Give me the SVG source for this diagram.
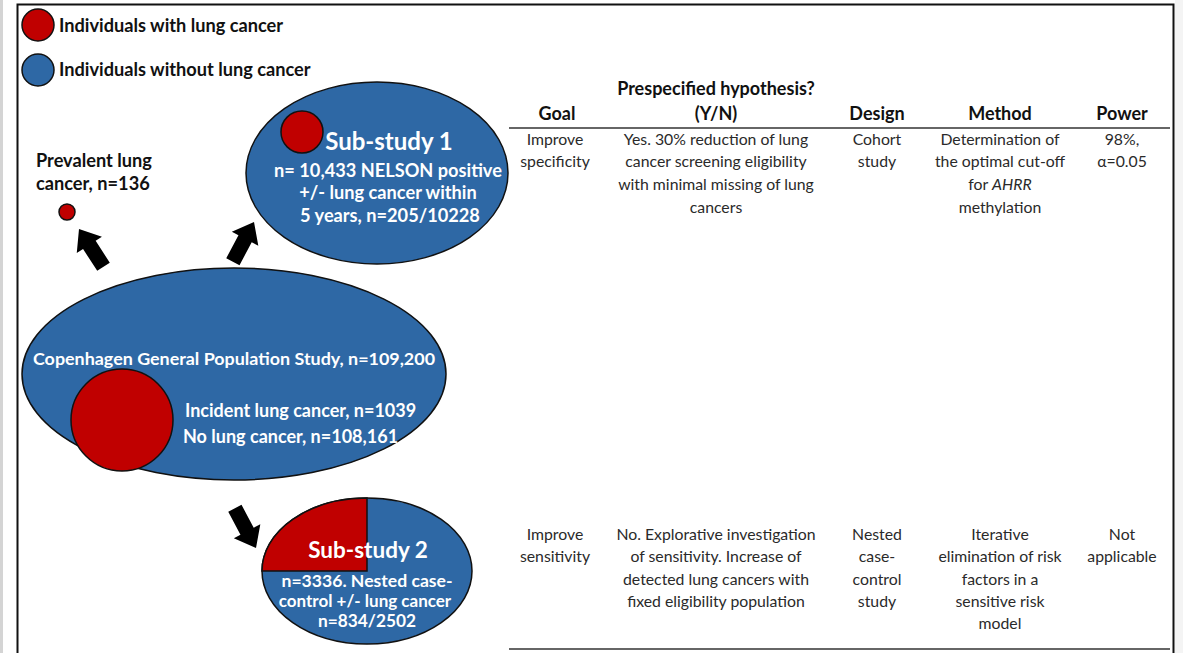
<svg xmlns="http://www.w3.org/2000/svg" xmlns:xlink="http://www.w3.org/1999/xlink" width="1183" height="653" viewBox="0 0 1183 653">
<style>
.red{fill:#C00000;stroke:#111;stroke-width:1.5}
.blue{fill:#2E68A5;stroke:#111;stroke-width:1.5}
.leg{font-family:Lato,"Liberation Sans",sans-serif;font-weight:bold;font-size:18.2px;fill:#111}
.wt{font-family:Lato,"Liberation Sans",sans-serif;font-weight:bold;fill:#fff;text-anchor:middle}
.wl{font-family:Lato,"Liberation Sans",sans-serif;font-weight:bold;fill:#fff;font-size:18px}
.hd{font-family:Lato,"Liberation Sans",sans-serif;font-weight:bold;font-size:18px;fill:#111;text-anchor:middle}
.cell{font-family:Lato,"Liberation Sans",sans-serif;font-size:15.8px;fill:#2a2a2a;text-anchor:middle}
.rule{stroke:#666;stroke-width:2}
</style>
<defs>
<path id="arr" d="M0,0 L15,19 L7.5,19 L7.5,45 L-7.5,45 L-7.5,19 L-15,19 Z" fill="#000"/>
</defs>
<rect width="1183" height="653" fill="#fff"/>
<rect x="0" y="0" width="3" height="653" fill="#d4d4d4"/>
<rect x="1175" y="0" width="8" height="653" fill="#f4f4f4"/>
<g id="frame" fill="none" stroke="#111" stroke-width="2">
<path d="M17.5,653 V4.5 H1173.5 V653"/>
</g>
<g id="legend">
<circle class="red" cx="38" cy="25" r="16"/>
<text class="leg" x="59" y="32">Individuals with lung cancer</text>
<circle class="blue" cx="38" cy="70" r="16"/>
<text class="leg" x="59" y="76">Individuals without lung cancer</text>
</g>
<g id="connectors">
<use xlink:href="#arr" transform="translate(79,229) rotate(-33)"/>
<use xlink:href="#arr" transform="translate(254,222) rotate(28)"/>
<use xlink:href="#arr" transform="translate(256,548) rotate(152)"/>
</g>
<g id="prevalent">
<text class="leg" x="36" y="167">Prevalent lung</text>
<text class="leg" x="36" y="190">cancer, n=136</text>
<circle class="red" cx="67" cy="212" r="8"/>
</g>
<g id="substudy1">
<ellipse class="blue" cx="377" cy="173" rx="131" ry="91"/>
<circle class="red" cx="302" cy="132" r="21"/>
<text class="wt" x="389" y="150" font-size="24">Sub-study 1</text>
<text class="wt" x="388" y="177" font-size="18.2">n= 10,433 NELSON positive</text>
<text class="wt" x="388" y="199" font-size="18.2">+/- lung cancer within</text>
<text class="wt" x="390" y="222" font-size="18.2">5 years, n=205/10228</text>
</g>
<g id="copenhagen">
<ellipse class="blue" cx="234" cy="374" rx="212" ry="106"/>
<text class="wt" x="234" y="365" font-size="17.9">Copenhagen General Population Study, n=109,200</text>
<circle class="red" cx="122" cy="420" r="51"/>
<text class="wl" x="185" y="417">Incident lung cancer, n=1039</text>
<text class="wl" x="183" y="443">No lung cancer, n=108,161</text>
</g>
<g id="substudy2">
<ellipse class="blue" cx="367" cy="571" rx="105" ry="73"/>
<path class="red" d="M367,571 V498 A105,73 0 0 0 262,571 Z"/>
<text class="wt" x="368" y="558" font-size="22.5">Sub-study 2</text>
<text class="wt" x="367" y="587" font-size="17.6">n=3336. Nested case-</text>
<text class="wt" x="365" y="607" font-size="17">control +/- lung cancer</text>
<text class="wt" x="367" y="627" font-size="17.3">n=834/2502</text>
</g>
<g id="table">
<text class="hd" x="716" y="95">Prespecified hypothesis?</text>
<text class="hd" x="716" y="120">(Y/N)</text>
<text class="hd" x="557" y="120">Goal</text>
<text class="hd" x="877" y="120">Design</text>
<text class="hd" x="1000" y="120">Method</text>
<text class="hd" x="1122" y="120">Power</text>
<line class="rule" x1="509" y1="128" x2="1170" y2="128"/>
<text class="cell" x="555" y="145">Improve</text>
<text class="cell" x="555" y="167">specificity</text>
<text class="cell" x="716" y="145">Yes. 30% reduction of lung</text>
<text class="cell" x="716" y="167">cancer screening eligibility</text>
<text class="cell" x="716" y="190">with minimal missing of lung</text>
<text class="cell" x="716" y="213">cancers</text>
<text class="cell" x="877" y="145">Cohort</text>
<text class="cell" x="877" y="167">study</text>
<text class="cell" x="1000" y="145">Determination of</text>
<text class="cell" x="1000" y="167">the optimal cut-off</text>
<text class="cell" x="1000" y="190">for <tspan font-style="italic">AHRR</tspan></text>
<text class="cell" x="1000" y="213">methylation</text>
<text class="cell" x="1122" y="145">98%,</text>
<text class="cell" x="1122" y="167">α=0.05</text>
<text class="cell" x="555" y="540">Improve</text>
<text class="cell" x="555" y="562">sensitivity</text>
<text class="cell" x="716" y="540">No. Explorative investigation</text>
<text class="cell" x="716" y="562">of sensitivity.  Increase of</text>
<text class="cell" x="716" y="585">detected lung cancers with</text>
<text class="cell" x="716" y="607">fixed eligibility  population</text>
<text class="cell" x="877" y="540">Nested</text>
<text class="cell" x="877" y="562">case-</text>
<text class="cell" x="877" y="585">control</text>
<text class="cell" x="877" y="607">study</text>
<text class="cell" x="1000" y="540">Iterative</text>
<text class="cell" x="1000" y="562">elimination  of risk</text>
<text class="cell" x="1000" y="585">factors in a</text>
<text class="cell" x="1000" y="607">sensitive risk</text>
<text class="cell" x="1000" y="629">model</text>
<text class="cell" x="1122" y="540">Not</text>
<text class="cell" x="1122" y="562">applicable</text>
<line class="rule" x1="509" y1="649" x2="1170" y2="649"/>
</g>
</svg>
